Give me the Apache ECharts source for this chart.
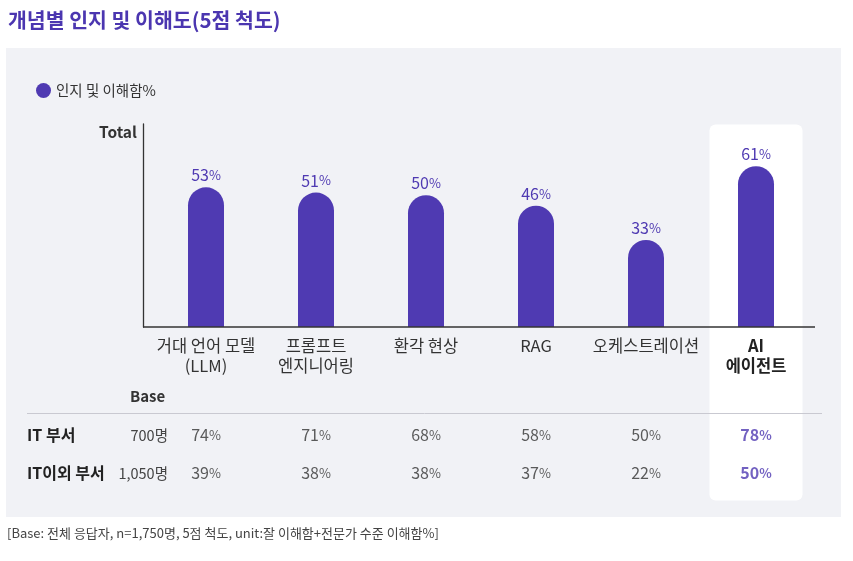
<!DOCTYPE html>
<html>
<head>
<meta charset="utf-8">
<script src="https://cdn.jsdelivr.net/npm/echarts@6/dist/echarts.min.js"></script>
<style>
  html, body { margin: 0; padding: 0; background: #fff; }
  #wrap { position: relative; width: 853px; height: 561px; }
  #panel { position: absolute; left: 6px; top: 48px; width: 835px; height: 469px; background: #f1f2f6; }
  #chart { position: absolute; left: 0; top: 0; width: 853px; height: 561px; }
</style>
</head>
<body>
<div id="wrap">
  <div id="panel"></div>
  <div id="chart"></div>
</div>
<script>
const categories = ['거대 언어 모델\n(LLM)', '프롬프트\n엔지니어링', '환각 현상', 'RAG', '오케스트레이션', 'AI\n에이전트'];
const totalValues = [53, 51, 50, 46, 33, 61];
const groupNames = ['IT 부서', 'IT이외 부서'];
const groupBase = ['700명', '1,050명'];
const itValues = [74, 71, 68, 58, 50, 78];
const nonItValues = [39, 38, 38, 37, 22, 50];

const FONT = '"Noto Sans CJK KR", "Noto Sans", sans-serif';
const PURPLE = '#4f3ab2';
const lastIdx = categories.length - 1;

// 차트 영역 레이아웃
const gridLeft = 151, gridWidth = 660, gridTop = 124, gridHeight = 203;
const band = gridWidth / categories.length;

const chart = echarts.init(document.getElementById('chart'));

function pctRich(size, color, weight) {
  return {
    n: { fontSize: size, color: color, fontWeight: weight, fontFamily: FONT },
    p: { fontSize: size - 3, color: color, fontWeight: weight, fontFamily: FONT }
  };
}

function rowSeries(name, values) {
  const hl = pctRich(16, PURPLE, 'bold');
  return {
    name: name,
    type: 'scatter',
    xAxisIndex: 1,
    yAxisIndex: 1,
    symbolSize: 1,
    z: 5,
    itemStyle: { color: 'transparent' },
    label: {
      show: true,
      position: 'inside',
      fontFamily: FONT,
      formatter: function (p) {
        const s = p.dataIndex === lastIdx ? 'h' : '';
        return '{n' + s + '|' + p.value[2] + '}{p' + s + '|%}';
      },
      rich: Object.assign(pctRich(16, '#333', 'normal'), { nh: hl.n, ph: hl.p })
    },
    data: values.map(function (v, i) { return [i, name, v]; })
  };
}

chart.setOption({
  backgroundColor: 'transparent',
  textStyle: { fontFamily: FONT },
  legend: {
    data: ['인지 및 이해함%'],
    left: 31,
    top: 78,
    icon: 'circle',
    itemWidth: 15,
    itemHeight: 15,
    itemGap: 8,
    textStyle: { color: '#333', fontSize: 14.5, fontFamily: FONT }
  },
  grid: [
    { left: gridLeft, width: gridWidth, top: gridTop, height: gridHeight },
    { left: gridLeft, width: gridWidth, top: 416, height: 76 }
  ],
  xAxis: [
    {
      type: 'category',
      gridIndex: 0,
      data: categories,
      z: 5,
      axisLine: { show: false },
      axisTick: { show: false },
      axisLabel: {
        interval: 0,
        margin: 9,
        lineHeight: 20,
        fontFamily: FONT,
        formatter: function (value, index) {
          const tag = index === lastIdx ? 'b' : 'a';
          return value.split('\n').map(function (t) { return '{' + tag + '|' + t + '}'; }).join('\n');
        },
        rich: {
          a: { fontSize: 16.5, color: '#333', lineHeight: 20, fontFamily: FONT },
          b: { fontSize: 16.5, color: '#222', fontWeight: 'bold', lineHeight: 20, fontFamily: FONT }
        }
      }
    },
    {
      type: 'category',
      gridIndex: 1,
      data: categories,
      show: false
    }
  ],
  yAxis: [
    {
      type: 'value',
      gridIndex: 0,
      min: 0,
      max: 77,
      offset: 8,
      axisLine: { show: true, lineStyle: { color: '#333', width: 1.3 } },
      axisTick: { show: false },
      axisLabel: { show: false },
      splitLine: { show: false }
    },
    {
      type: 'category',
      gridIndex: 1,
      data: groupNames,
      inverse: true,
      z: 5,
      axisLine: { show: false },
      axisTick: { show: false },
      axisLabel: {
        align: 'left',
        margin: 124,
        fontFamily: FONT,
        formatter: function (value, index) {
          return '{a|' + value + '}{b|' + groupBase[index] + '}';
        },
        rich: {
          a: { width: 90, fontSize: 16, fontWeight: 'bold', color: '#222', fontFamily: FONT },
          b: { width: 51, align: 'right', fontSize: 14.5, color: '#444', fontFamily: FONT }
        }
      }
    }
  ],
  graphic: [
    {
      type: 'text', left: 8, top: 10, z: 10,
      style: { text: '개념별 인지 및 이해도(5점 척도)', fill: '#4b36b0', fontSize: 20.5, fontWeight: 'bold', fontFamily: FONT }
    },
    {
      type: 'rect', z: 1,
      shape: { x: gridLeft + band * (lastIdx + 0.5) - 46.5, y: 124.5, width: 93, height: 376, r: 6 },
      style: { fill: '#ffffff' }
    },
    {
      type: 'line', z: 4,
      shape: { x1: 143, y1: gridTop + gridHeight, x2: 815, y2: gridTop + gridHeight },
      style: { stroke: '#333', lineWidth: 1.3 }
    },
    {
      type: 'text', left: 99, top: 124, z: 10,
      style: { text: 'Total', fill: '#333', fontSize: 15.5, fontWeight: 'bold', fontFamily: FONT }
    },
    {
      type: 'text', left: 130, top: 389, z: 10,
      style: { text: 'Base', fill: '#333', fontSize: 15, fontWeight: 'bold', fontFamily: FONT }
    },
    {
      type: 'line', z: 4,
      shape: { x1: 27, y1: 413.5, x2: 822, y2: 413.5 },
      style: { stroke: '#c9c9d1', lineWidth: 1 }
    },
    {
      type: 'text', left: 7, top: 527, z: 10,
      style: { text: '[Base: 전체 응답자, n=1,750명, 5점 척도, unit:잘 이해함+전문가 수준 이해함%]', fill: '#444', fontSize: 13, fontFamily: FONT }
    }
  ],
  series: [
    {
      name: '인지 및 이해함%',
      type: 'bar',
      barWidth: 36,
      z: 3,
      itemStyle: { color: PURPLE, borderRadius: [18, 18, 0, 0] },
      label: {
        show: true,
        position: 'top',
        distance: 4,
        fontFamily: FONT,
        formatter: '{n|{c}}{p|%}',
        rich: pctRich(16, PURPLE, 'normal')
      },
      data: totalValues
    },
    rowSeries(groupNames[0], itValues),
    rowSeries(groupNames[1], nonItValues)
  ]
});
</script>
</body>
</html>
